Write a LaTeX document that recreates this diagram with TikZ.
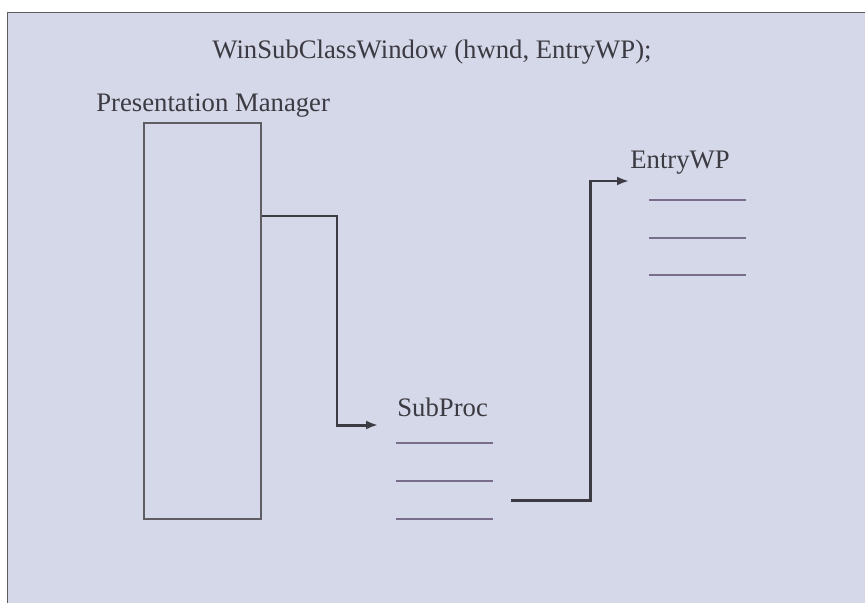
\documentclass[tikz,border=0pt]{standalone}
\usepackage{fontspec}
\setmainfont{Liberation Serif}
\usetikzlibrary{calc,arrows.meta}

\definecolor{panel}{RGB}{212,216,232}
\definecolor{edge}{RGB}{95,92,100}
\definecolor{rule}{RGB}{120,110,140}
\definecolor{ink}{RGB}{60,58,66}

\tikzset{
    lbl/.style={font=\fontsize{15.2}{18}\selectfont,text=ink,inner sep=0pt},
    pmbox/.style={draw=edge,line width=0.7pt,minimum width=2.34cm,minimum height=7.92cm,inner sep=0pt},
    flow/.style={draw=ink,line width=1.7pt,-{Latex[length=2.4mm,width=1.8mm]}},
    entry/.style={draw=rule,line width=0.6pt}
}

\begin{document}
\begin{tikzpicture}[x=0.02cm,y=-0.02cm]
    \useasboundingbox (0,0) rectangle (865,602);
    \fill[white] (0,0) rectangle (865,602);
    % panel behind everything, runs off the right and bottom
    \begin{scope}
        \clip (0,0) rectangle (865,602);
        \draw[fill=panel,draw=edge,line width=0.5pt] (7,12) rectangle (875,612);
    \end{scope}

    \node[lbl] (title) at (432,52) {WinSubClassWindow (hwnd, EntryWP);};
    \node[lbl,anchor=west] (pmtext) at (96,106) {Presentation Manager};
    \node[pmbox] (pm) at (202.5,321) {};

    \node[lbl,anchor=west] (sub) at (397,407) {SubProc};
    \node[lbl,anchor=west] (entrywp) at (630,163) {EntryWP};

    % code lines of each procedure
    \foreach \y in {443,481,519}
        \draw[entry] (396,\y) -- (493,\y);
    \foreach \y in {200,238,275}
        \draw[entry] (649,\y) -- (746,\y);

    % message flow
    \coordinate (pmout) at (pm.east |- 0,216);
    \coordinate (subin) at (378,425);
    \coordinate (subout) at (511,500);
    \coordinate (entryin) at (629,181);
    \draw[flow] (pmout) -- (337,216) -- (337,425) -- (subin);
    \draw[flow] (subout) -- (590,500) -- (590,181) -- (entryin);
\end{tikzpicture}
\end{document}
